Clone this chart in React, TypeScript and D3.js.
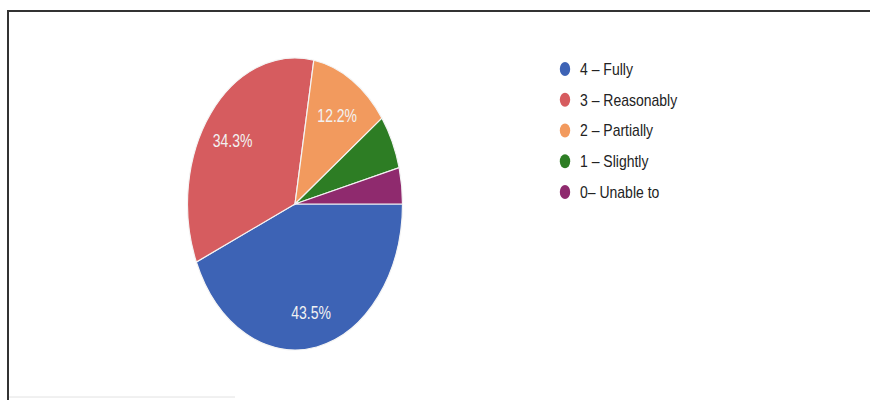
import React, { useEffect, useRef } from "react";
import * as d3 from "d3";

const categories = ["4 – Fully", "3 – Reasonably", "2 – Partially", "1 – Slightly", "0– Unable to"];
const percents = [43.5, 34.3, 12.2, 6.0, 4.0];
const colors = ["#3d63b5", "#d65c5f", "#f29a5e", "#2d7d24", "#8f2a6e"];
const shownLabels = [true, true, true, false, false];

const W = 870;
const H = 400;

export default function App() {
  const ref = useRef<SVGSVGElement | null>(null);

  useEffect(() => {
    const svg = d3.select(ref.current);
    svg.selectAll("*").remove();

    svg.append("rect").attr("x", 0).attr("y", 0).attr("width", W).attr("height", H).attr("fill", "#ffffff");

    // frame
    svg.append("line").attr("x1", 8).attr("x2", W).attr("y1", 11).attr("y2", 11)
      .attr("stroke", "#333").attr("stroke-width", 2);
    svg.append("line").attr("x1", 8).attr("x2", 8).attr("y1", 10).attr("y2", H)
      .attr("stroke", "#333").attr("stroke-width", 2);
    svg.append("line").attr("x1", 9).attr("x2", 235).attr("y1", 397).attr("y2", 397)
      .attr("stroke", "#e2e2e2").attr("stroke-width", 1);

    const cx = 295, cy = 204, rx = 107.5, ry = 146;
    const k = ry / rx;

    const data = categories.map((c, i) => ({ name: c, value: percents[i], color: colors[i], show: shownLabels[i] }));
    const pie = d3.pie<any>().value((d: any) => d.value).sort(null)
      .startAngle(Math.PI / 2).endAngle(Math.PI / 2 + 2 * Math.PI);
    const arcs = pie(data);
    const arc = d3.arc<any>().innerRadius(0).outerRadius(rx);
    const labelArc = d3.arc<any>().innerRadius(rx * 0.74).outerRadius(rx * 0.74);

    const g = svg.append("g").attr("transform", `translate(${cx},${cy}) scale(1,${k})`);
    g.selectAll("path.slice").data(arcs).enter().append("path")
      .attr("class", "slice")
      .attr("d", arc as any)
      .attr("fill", (d: any) => d.data.color)
      .attr("stroke", "#f4f4f4")
      .attr("stroke-width", 1.2)
      .attr("vector-effect", "non-scaling-stroke");

    g.selectAll("text.lbl").data(arcs.filter((d: any) => d.data.show)).enter().append("text")
      .attr("class", "lbl")
      .attr("transform", (d: any) => {
        const [x, y] = labelArc.centroid(d);
        return `translate(${x},${y + 2.5})`;
      })
      .attr("text-anchor", "middle")
      .attr("dominant-baseline", "central")
      .attr("font-family", "'Liberation Sans', Arial, sans-serif")
      .attr("font-size", 14)
      .attr("fill", "#f2f2f2")
      .text((d: any) => `${d.data.value.toFixed(1)}%`);

    // legend
    const ly = d3.scalePoint<string>().domain(categories).range([69, 192]);
    const lg = svg.append("g");
    const items = lg.selectAll("g.item").data(data).enter().append("g")
      .attr("class", "item")
      .attr("transform", (d: any) => `translate(565,${ly(d.name)})`);
    items.append("ellipse").attr("cx", 0).attr("cy", 0).attr("rx", 5.2).attr("ry", 7)
      .attr("fill", (d: any) => d.color);
    items.append("text")
      .attr("transform", "translate(15,0) scale(1,1.2)")
      .attr("dominant-baseline", "central")
      .attr("font-family", "'Liberation Sans', Arial, sans-serif")
      .attr("font-size", 14)
      .attr("fill", "#222")
      .text((d: any) => d.name);
  }, []);

  return (
    <svg
      ref={ref}
      width={W}
      height={H}
      style={{ position: "absolute", left: 0, top: 0, display: "block" }}
    />
  );
}
